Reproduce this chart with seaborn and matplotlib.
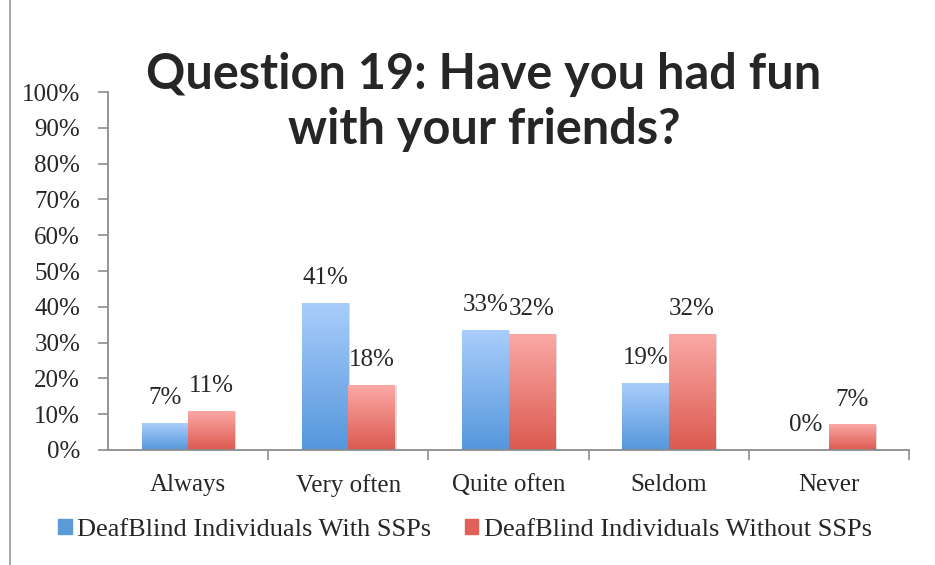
import numpy as np
import pandas as pd
import seaborn as sns
import matplotlib.pyplot as plt
from matplotlib.colors import LinearSegmentedColormap
from matplotlib.patches import Rectangle

categories = ["Always", "Very often", "Quite often", "Seldom", "Never"]
with_ssp = [0.074, 0.41, 0.333, 0.186, 0.0]
without_ssp = [0.107, 0.18, 0.322, 0.322, 0.07]
series = ["DeafBlind Individuals With SSPs", "DeafBlind Individuals Without SSPs"]

df = pd.DataFrame({
    "cat": categories * 2,
    "val": with_ssp + without_ssp,
    "grp": [series[0]] * 5 + [series[1]] * 5,
})

sns.set_style("white")
plt.rcParams['font.family'] = ['Liberation Serif', 'DejaVu Serif']

fig = plt.figure(figsize=(9.35, 5.65), dpi=100)
ax = fig.add_axes([108 / 935, 1 - 450 / 565, 801 / 935, 358 / 565])

colors = ["#5b9bd5", "#e0605a"]
ax = sns.barplot(data=df, x="cat", y="val", hue="grp", palette=colors,
                 width=0.58, ax=ax, legend=False)

# gradient fill: light at top, darker at bottom
grads = [("#a9cdfb", "#5597dc"), ("#fba8a5", "#dc5a50")]
for i, cont in enumerate(ax.containers):
    cmap = LinearSegmentedColormap.from_list("g", [grads[i][1], grads[i][0]])
    for bar, v in zip(cont, df[df.grp == series[i]].val):
        x0, w, h = bar.get_x(), bar.get_width(), bar.get_height()
        if h <= 0:
            bar.set_visible(False)
        else:
            bar.set_alpha(0)
            ax.imshow(np.linspace(0, 1, 100).reshape(-1, 1), cmap=cmap,
                      extent=[x0, x0 + w, 0, h], origin="lower",
                      aspect="auto", zorder=2)
            # soft shadow
            ax.add_patch(Rectangle((x0 + w, 0), 0.012, h, color="#dcdcdc",
                                   zorder=1, lw=0))
        ax.text(x0 + w / 2, h + 0.04, f"{round(v * 100):.0f}%", ha="center",
                va="bottom", fontsize=18, zorder=3)

ax.set_xlim(-0.5, 4.5)
ax.set_ylim(0, 1)
ax.set_yticks(np.arange(0, 1.01, 0.1))
ax.set_yticklabels([f"{int(round(t * 100))}%" for t in np.arange(0, 1.01, 0.1)])
ax.set_xticks(range(5))
ax.set_xticklabels(categories)
ax.set_xticks(np.arange(0.5, 4.6, 1), minor=True)
ax.tick_params(axis="y", which="major", left=True, length=7, width=1.2,
               color="#8c8c8c", labelsize=18, pad=13)
ax.tick_params(axis="x", which="major", bottom=False, labelsize=18, pad=14)
ax.tick_params(axis="x", which="minor", bottom=True, length=7, width=1.2,
               color="#8c8c8c")
ax.set_xlabel("")
ax.set_ylabel("")
for s in ["top", "right"]:
    ax.spines[s].set_visible(False)
for s in ["left", "bottom"]:
    ax.spines[s].set_color("#8c8c8c")
    ax.spines[s].set_linewidth(1.3)

fig.text(484 / 935, 1 - 102 / 565, "Question 19: Have you had fun\nwith your friends?",
         ha="center", va="center", fontsize=35, fontweight="bold",
         family=["Lato", "DejaVu Sans"], linespacing=1.25)

# legend
handles = [Rectangle((0, 0), 1, 1, color=colors[0]), Rectangle((0, 0), 1, 1, color=colors[1])]
fig.legend(handles, series, loc="center", bbox_to_anchor=(465 / 935, 1 - 530 / 565),
           ncol=2, frameon=False, fontsize=19, handlelength=0.5, handleheight=0.5,
           handletextpad=0.2, columnspacing=1.3)

# outer frame
fig.add_artist(Rectangle((10 / 935, -0.05), 1, 1.2, transform=fig.transFigure,
                         fill=False, edgecolor="#9a9a9a", lw=1.2))

fig.savefig("out.png", dpi=100)
